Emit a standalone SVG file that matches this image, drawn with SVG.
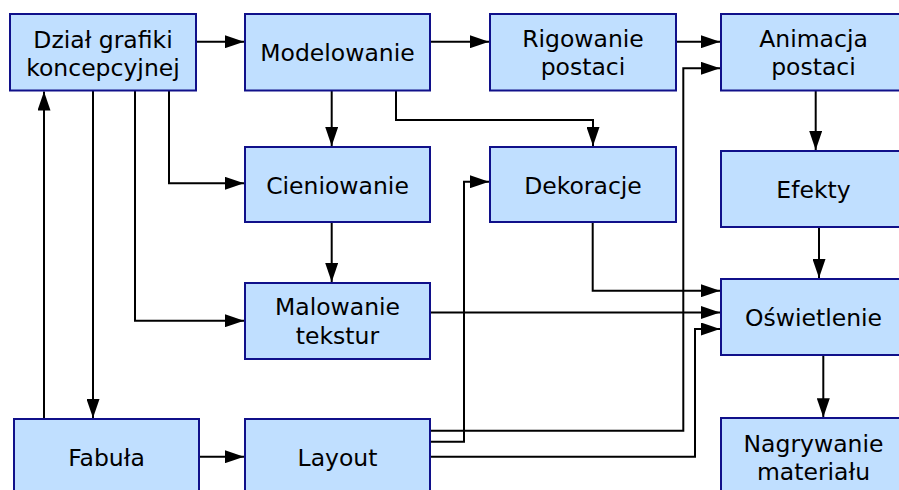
<svg xmlns="http://www.w3.org/2000/svg" width="899" height="490" viewBox="0 0 899 490">
<defs>
<style>
.box{fill:#c0dfff;stroke:#10108a;stroke-width:2}
.t{font-family:"DejaVu Sans",Verdana,sans-serif;font-size:23.5px;fill:#000;text-anchor:middle}
.c{fill:none;stroke:#000;stroke-width:2}
</style>
<marker id="ah" markerUnits="userSpaceOnUse" markerWidth="19" markerHeight="13" refX="19" refY="6.5" orient="auto">
<path d="M0,0 L19,6.5 L0,13 z" fill="#000"/>
</marker>
</defs>
<rect width="899" height="490" fill="#fff"/>
<g id="connectors">
<path class="c" marker-end="url(#ah)" d="M196,41.7 H244"/>
<path class="c" marker-end="url(#ah)" d="M430,41.7 H489"/>
<path class="c" marker-end="url(#ah)" d="M676,41.7 H720"/>
<path class="c" marker-end="url(#ah)" d="M331.7,90.5 V146"/>
<path class="c" marker-end="url(#ah)" d="M396,90.5 V120 H593 V146"/>
<path class="c" marker-end="url(#ah)" d="M169,90.5 V183.3 H244"/>
<path class="c" marker-end="url(#ah)" d="M135,90.5 V320.7 H244"/>
<path class="c" marker-end="url(#ah)" d="M93,90.5 V418"/>
<path class="c" marker-end="url(#ah)" d="M44,419 V91.5"/>
<path class="c" marker-end="url(#ah)" d="M331.7,222 V282"/>
<path class="c" marker-end="url(#ah)" d="M815.7,90.5 V150"/>
<path class="c" marker-end="url(#ah)" d="M819,227 V278"/>
<path class="c" marker-end="url(#ah)" d="M592.7,222 V290.7 H720"/>
<path class="c" marker-end="url(#ah)" d="M430,312.5 H720"/>
<path class="c" marker-end="url(#ah)" d="M430,456.7 H695 V329 H720"/>
<path class="c" marker-end="url(#ah)" d="M430,430.7 H683.3 V68.3 H720"/>
<path class="c" marker-end="url(#ah)" d="M430,441.7 H464 V181.7 H489"/>
<path class="c" marker-end="url(#ah)" d="M199.3,456.7 H244"/>
<path class="c" marker-end="url(#ah)" d="M823.3,355.3 V417.3"/>
</g>
<g id="dzial"><rect class="box" x="10" y="14" width="186" height="76.5"/><text class="t" x="103" y="48">Dział grafiki</text><text class="t" x="103" y="76">koncepcyjnej</text></g>
<g id="modelowanie"><rect class="box" x="245" y="14" width="185" height="76.5"/><text class="t" x="337.5" y="61">Modelowanie</text></g>
<g id="rigowanie"><rect class="box" x="490" y="14" width="186" height="76.5"/><text class="t" x="583" y="47">Rigowanie</text><text class="t" x="583" y="75">postaci</text></g>
<g id="animacja"><rect class="box" x="721" y="14" width="186" height="76.5"/><text class="t" x="813.5" y="47">Animacja</text><text class="t" x="813.5" y="75">postaci</text></g>
<g id="cieniowanie"><rect class="box" x="245" y="147" width="185" height="75"/><text class="t" x="337.5" y="194">Cieniowanie</text></g>
<g id="dekoracje"><rect class="box" x="490" y="147" width="186" height="75"/><text class="t" x="583" y="194">Dekoracje</text></g>
<g id="efekty"><rect class="box" x="721" y="151" width="186" height="76"/><text class="t" x="813.5" y="198">Efekty</text></g>
<g id="malowanie"><rect class="box" x="245" y="283" width="185" height="76"/><text class="t" x="337.5" y="315">Malowanie</text><text class="t" x="337.5" y="344">tekstur</text></g>
<g id="oswietlenie"><rect class="box" x="721" y="279" width="186" height="76"/><text class="t" x="813.5" y="326">Oświetlenie</text></g>
<g id="fabula"><rect class="box" x="14" y="419" width="185" height="80"/><text class="t" x="106.5" y="465.5">Fabuła</text></g>
<g id="layout"><rect class="box" x="245" y="419" width="185" height="80"/><text class="t" x="337.5" y="465.5">Layout</text></g>
<g id="nagrywanie"><rect class="box" x="721" y="418" width="186" height="80"/><text class="t" x="813.5" y="451.5">Nagrywanie</text><text class="t" x="813.5" y="480">materiału</text></g>
</svg>
